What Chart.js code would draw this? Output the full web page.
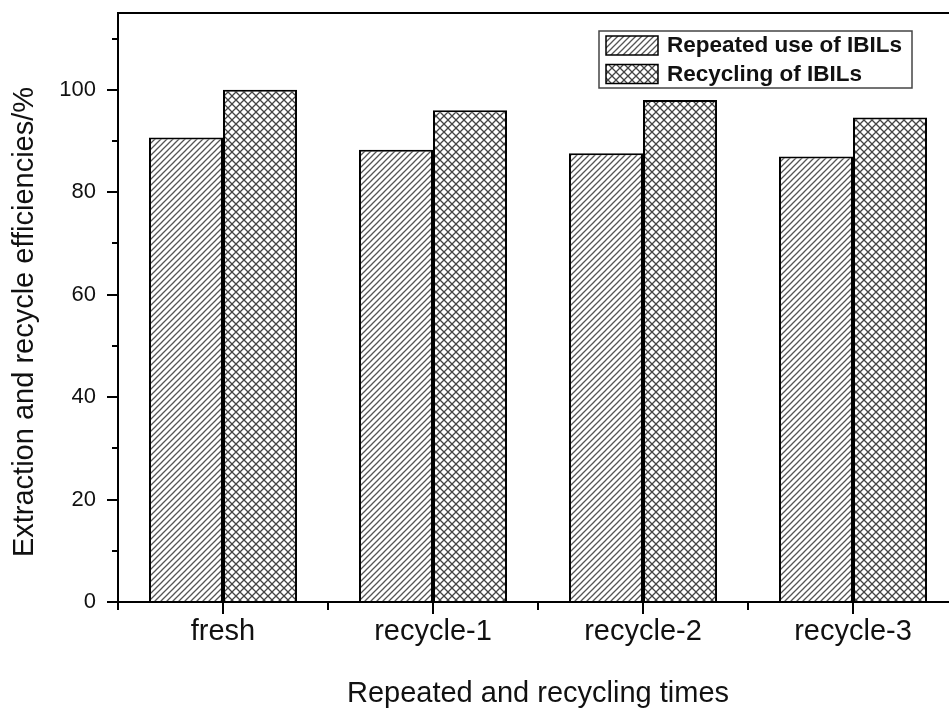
<!DOCTYPE html>
<html>
<head>
<meta charset="utf-8">
<script src="https://cdn.jsdelivr.net/npm/chart.js@4"></script>
<style>
  html, body { margin: 0; padding: 0; background: #fff; overflow: hidden; }
  #wrap { width: 960px; height: 711px; }
</style>
</head>
<body>
<div id="wrap"><canvas id="c" width="960" height="711"></canvas></div>
<script>
// Categories and measured efficiencies (%)
const categories = ['fresh', 'recycle-1', 'recycle-2', 'recycle-3'];
const repeatedUse = [90.7, 88.3, 87.6, 87.0];
const recycling = [100.0, 96.0, 98.0, 94.6];
const seriesNames = ['Repeated use of IBILs', 'Recycling of IBILs'];
const yMajorTicks = [0, 20, 40, 60, 80, 100];
const yMinorTicks = [10, 30, 50, 70, 90, 110];
const yTitle = 'Extraction and recycle efficiencies/%';

const FONT = "'Liberation Sans', Arial, sans-serif";

// Hatch fills
function diagonalPattern() {
  const s = 6;
  const t = document.createElement('canvas');
  t.width = s; t.height = s;
  const g = t.getContext('2d');
  g.fillStyle = '#fff';
  g.fillRect(0, 0, s, s);
  g.strokeStyle = '#555';
  g.lineWidth = 1.3;
  g.beginPath();
  g.moveTo(-1, s + 1); g.lineTo(s + 1, -1);
  g.moveTo(-1, 1); g.lineTo(1, -1);
  g.moveTo(s - 1, s + 1); g.lineTo(s + 1, s - 1);
  g.stroke();
  return g.createPattern(t, 'repeat');
}
function crossPattern() {
  const s = 8;
  const t = document.createElement('canvas');
  t.width = s; t.height = s;
  const g = t.getContext('2d');
  g.fillStyle = '#fff';
  g.fillRect(0, 0, s, s);
  g.strokeStyle = '#444';
  g.lineWidth = 1.3;
  g.beginPath();
  g.moveTo(0, 0); g.lineTo(s, s);
  g.moveTo(0, s); g.lineTo(s, 0);
  g.stroke();
  return g.createPattern(t, 'repeat');
}

// Frame, tick marks, vertical axis title and boxed legend
const decor = {
  id: 'decor',
  afterDraw(chart) {
    const ctx = chart.ctx;
    const a = chart.chartArea;
    const xs = chart.scales.x, ys = chart.scales.y;
    ctx.save();
    ctx.strokeStyle = '#000';
    ctx.lineWidth = 2;
    ctx.strokeRect(a.left, a.top, a.right - a.left, a.bottom - a.top);

    ctx.beginPath();
    yMajorTicks.forEach(v => {
      const y = Math.round(ys.getPixelForValue(v));
      ctx.moveTo(a.left - 11, y); ctx.lineTo(a.left, y);
    });
    yMinorTicks.forEach(v => {
      const y = Math.round(ys.getPixelForValue(v));
      ctx.moveTo(a.left - 6, y); ctx.lineTo(a.left, y);
    });
    categories.forEach((c, i) => {
      const x = Math.round(xs.getPixelForValue(i));
      ctx.moveTo(x, a.bottom); ctx.lineTo(x, a.bottom + 12);
    });
    for (let i = 0; i <= categories.length; i++) {
      const x = Math.round(xs.getPixelForValue(i - 0.5));
      ctx.moveTo(x, a.bottom); ctx.lineTo(x, a.bottom + 8);
    }
    ctx.stroke();

    // vertical axis title
    ctx.save();
    ctx.translate(25, 322);
    ctx.rotate(-Math.PI / 2);
    ctx.font = "29px " + FONT;
    ctx.fillStyle = '#111';
    ctx.textAlign = 'center';
    ctx.textBaseline = 'middle';
    ctx.fillText(yTitle, 0, 0);
    ctx.restore();

    // legend
    const lx = 599, ly = 31, lw = 313, lh = 57;
    ctx.lineWidth = 1.5;
    ctx.strokeStyle = '#444';
    ctx.fillStyle = '#fff';
    ctx.fillRect(lx, ly, lw, lh);
    ctx.strokeRect(lx, ly, lw, lh);
    ctx.font = "bold 22.5px " + FONT;
    ctx.textBaseline = 'middle';
    chart.data.datasets.forEach((ds, i) => {
      const by = ly + 5 + i * 28.5;
      ctx.fillStyle = ds.backgroundColor;
      ctx.fillRect(lx + 7, by, 52, 19);
      ctx.strokeStyle = '#000';
      ctx.lineWidth = 1.5;
      ctx.strokeRect(lx + 7, by, 52, 19);
      ctx.fillStyle = '#111';
      ctx.fillText(ds.label, lx + 68, by + 10);
    });
    ctx.restore();
  }
};

new Chart(document.getElementById('c'), {
  type: 'bar',
  data: {
    labels: categories,
    datasets: [
      { label: seriesNames[0], data: repeatedUse, backgroundColor: diagonalPattern(),
        borderColor: '#000', borderWidth: 2 },
      { label: seriesNames[1], data: recycling, backgroundColor: crossPattern(),
        borderColor: '#000', borderWidth: 2 }
    ]
  },
  options: {
    responsive: false,
    animation: false,
    layout: { padding: { top: 13, right: 2, left: 0, bottom: 0 } },
    datasets: { bar: { barPercentage: 1, categoryPercentage: 0.705 } },
    plugins: { legend: { display: false }, tooltip: { enabled: false } },
    scales: {
      x: {
        grid: { display: false, drawTicks: false },
        border: { display: false },
        ticks: { color: '#111', font: { family: FONT, size: 29 }, padding: 13, maxRotation: 0 },
        title: { display: true, text: 'Repeated and recycling times', color: '#111',
                 font: { family: FONT, size: 29 }, padding: { top: 0, bottom: 0 } },
        afterFit(s) { s.height = 109; s.paddingLeft = 0; s.paddingRight = 0; }
      },
      y: {
        min: 0, max: 115,
        grid: { display: false, drawTicks: false },
        border: { display: false },
        afterBuildTicks(s) { s.ticks = yMajorTicks.map(v => ({ value: v })); },
        ticks: { color: '#111', font: { family: FONT, size: 22 }, padding: 22 },
        afterFit(s) { s.width = 118; s.paddingTop = 0; s.paddingBottom = 0; }
      }
    }
  },
  plugins: [decor]
});
</script>
</body>
</html>
